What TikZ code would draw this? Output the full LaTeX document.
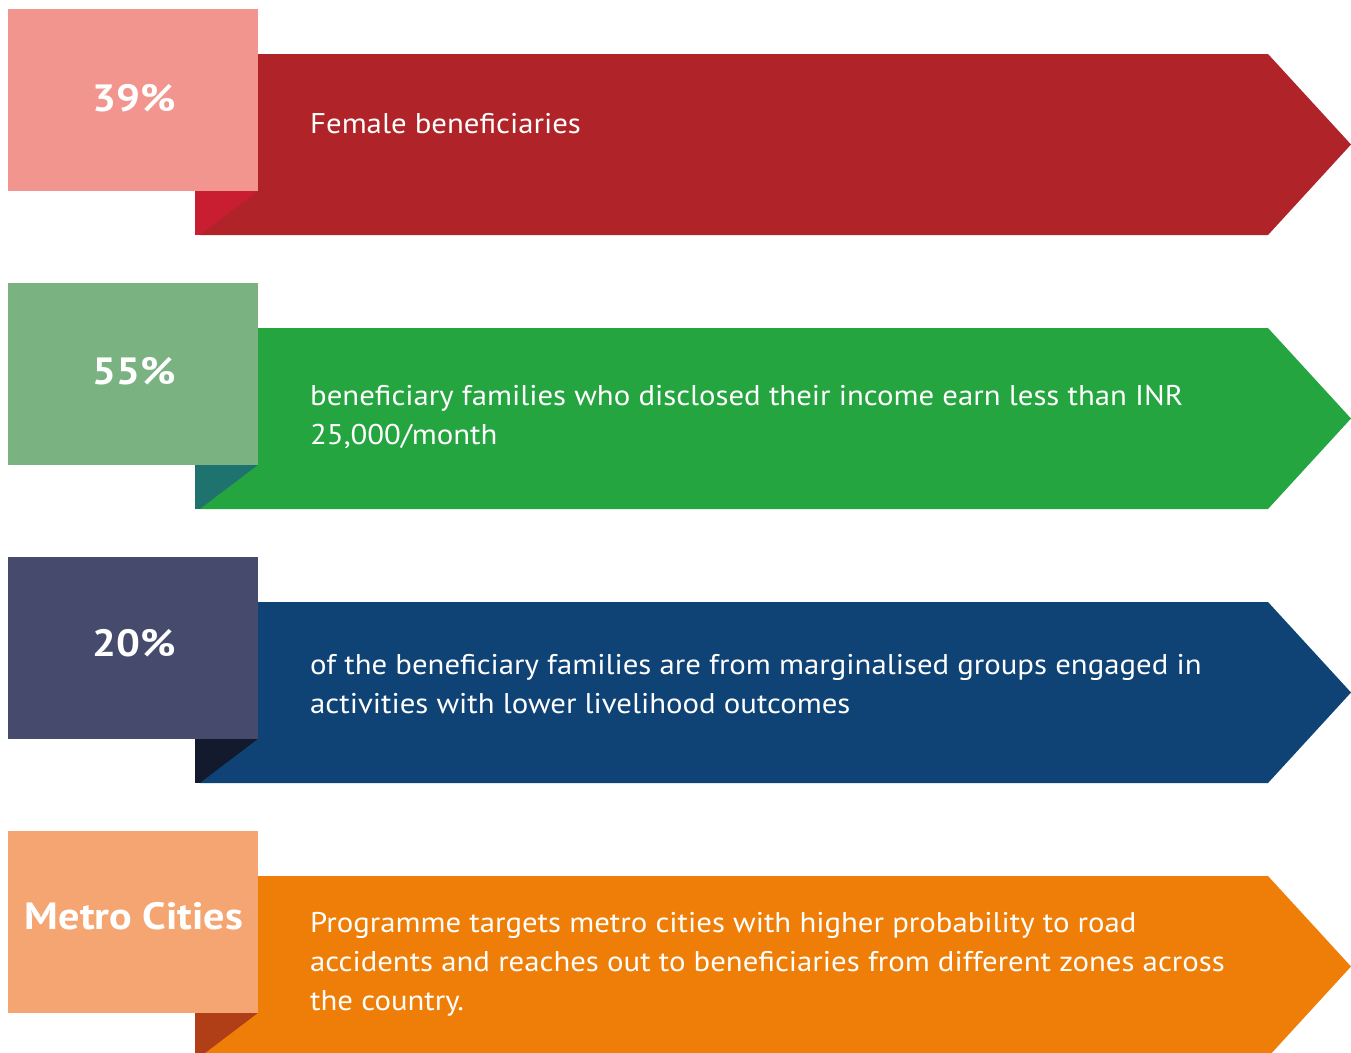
\documentclass[tikz,border=0pt]{standalone}
\usepackage{fontspec}
\setmainfont{PT Sans}[FakeStretch=1.08]
\newfontfamily\pctfont{PT Sans Bold}[FakeStretch=1.11]
\definecolor{boxA}{HTML}{F3958F}\definecolor{banA}{HTML}{B02328}\definecolor{foldA}{HTML}{C91D32}
\definecolor{boxB}{HTML}{7AB281}\definecolor{banB}{HTML}{24A540}\definecolor{foldB}{HTML}{1E736E}
\definecolor{boxC}{HTML}{464B6E}\definecolor{banC}{HTML}{0F4375}\definecolor{foldC}{HTML}{141A2E}
\definecolor{boxD}{HTML}{F5A572}\definecolor{banD}{HTML}{EF7E08}\definecolor{foldD}{HTML}{B03E16}
\tikzset{
  pct/.style={text=white, font=\fontsize{38}{40}\selectfont\pctfont, anchor=base, inner sep=0pt},
  body/.style={text=white, font=\fontsize{28.5}{38.6}\selectfont, anchor=base west, inner sep=0pt, align=left},
}
\newcommand\rowshape[4]{% #1 y0, #2 box, #3 banner, #4 fold
  \fill[#4] (195,#1+182) rectangle (258,#1+226);
  \fill[#3] (258,#1+45) -- (1268,#1+45) -- (1351,#1+135.5) -- (1268,#1+226) -- (200,#1+226) -- (258,#1+182) -- cycle;
  \fill[#2] (8,#1) rectangle (258,#1+182);
}
\begin{document}
\begin{tikzpicture}[x=1pt,y=-1pt]
\useasboundingbox (0,0) rectangle (1351,1052);
\clip (0,0) rectangle (1351,1052);
\rowshape{9}{boxA}{banA}{foldA}
\rowshape{283}{boxB}{banB}{foldB}
\rowshape{557}{boxC}{banC}{foldC}
\rowshape{831}{boxD}{banD}{foldD}
\node[pct] (p1) at (134,111) {39\%};
\node[pct] (p2) at (134,384) {55\%};
\node[pct] (p3) at (134,656) {20\%};
\node[pct] (p4) at (134,929) {Metro Cities};
% base anchor = baseline of last line
\node[body] (t1) at (310,133) {Female beneficiaries};
\node[body] (t2) at (310,444) {beneficiary families who disclosed their income earn less than INR\\25,000/month};
\node[body] (t3) at (310,713) {of the beneficiary families are from marginalised groups engaged in\\activities with lower livelihood outcomes};
\node[body] (t4) at (310,1010) {Programme targets metro cities with higher probability to road\\accidents and reaches out to beneficiaries from different zones across\\the country.};
\end{tikzpicture}
\end{document}
